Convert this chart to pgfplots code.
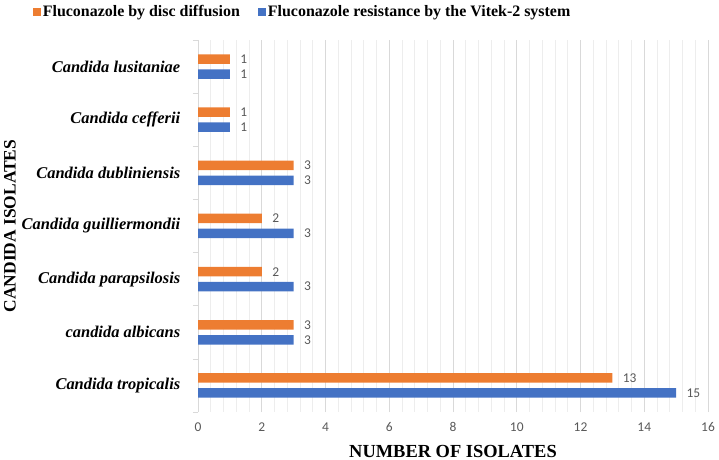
\documentclass[border=0pt]{standalone}
\usepackage{pgfplots}
\pgfplotsset{compat=1.18}
\usepackage{fontspec}
\setmainfont{Liberation Serif}
\newfontfamily\calib{Carlito}
\definecolor{xorange}{HTML}{ED7D31}
\definecolor{xblue}{HTML}{4472C4}
\definecolor{lbl}{HTML}{595959}
\definecolor{gmaj}{HTML}{D9D9D9}
\definecolor{gmin}{HTML}{EDEDED}
\begin{document}
\begin{tikzpicture}
\useasboundingbox (0,0) rectangle (719bp,460bp);
\begin{axis}[
  at={(198bp,48bp)}, anchor=south west,
  scale only axis, width=510bp, height=372bp,
  xbar, bar width=9.5bp,
  xmin=0, xmax=16, ymin=-0.5, ymax=6.5,
  xtick={0,2,...,16}, minor x tick num=4,
  xmajorgrids, xminorgrids,
  major x grid style={gmaj, line width=0.6pt},
  minor x grid style={gmin, line width=0.6pt},
  x tick style={draw=none},
  ytick={0,...,6},
  yticklabels={Candida tropicalis, candida albicans, Candida parapsilosis, Candida guilliermondii, Candida dubliniensis, Candida cefferii, Candida lusitaniae},
  y tick style={draw=none},
  minor ytick={-0.5,0.5,...,6.5},
  minor y tick style={draw=gmaj, line width=0.6pt},
  minor tick length=5bp, tick align=outside,
  axis lines*=left,
  x axis line style={draw=none},
  y axis line style={draw=gmaj, line width=0.6pt},
  /pgf/number format/assume math mode=true,
  xticklabel style={font=\calib\fontsize{13.5}{14}\selectfont, text=lbl, yshift=-3bp},
  yticklabel style={font=\fontsize{16.5}{17}\selectfont\bfseries\itshape, xshift=-10bp},
  xlabel={NUMBER OF ISOLATES},
  xlabel style={font=\fontsize{18.5}{19}\selectfont\bfseries, yshift=-6bp},
  ylabel={CANDIDA ISOLATES},
  ylabel style={font=\fontsize{17.5}{18}\selectfont\bfseries, at={(-188bp,0.5)}, anchor=center},
  nodes near coords,
  every node near coord/.append style={font=\calib\fontsize{13.5}{14}\selectfont, text=lbl, xshift=7bp},
  legend columns=2,
  legend style={at={(-0.33,1.075)}, anchor=west, draw=none, fill=none,
    font=\fontsize{16}{17}\selectfont\bfseries,
    /tikz/every even column/.append style={column sep=16bp}},
  legend image code/.code={\fill[#1] (0bp,-4bp) rectangle (8bp,4bp);},
]
\addplot[fill=xorange, draw=none, bar shift=7.5bp] coordinates {(13,0) (3,1) (2,2) (2,3) (3,4) (1,5) (1,6)};
\addlegendentry{Fluconazole by disc diffusion}
\addplot[fill=xblue, draw=none, bar shift=-7.5bp] coordinates {(15,0) (3,1) (3,2) (3,3) (3,4) (1,5) (1,6)};
\addlegendentry{Fluconazole resistance by the Vitek-2 system}
\end{axis}
\end{tikzpicture}
\end{document}
